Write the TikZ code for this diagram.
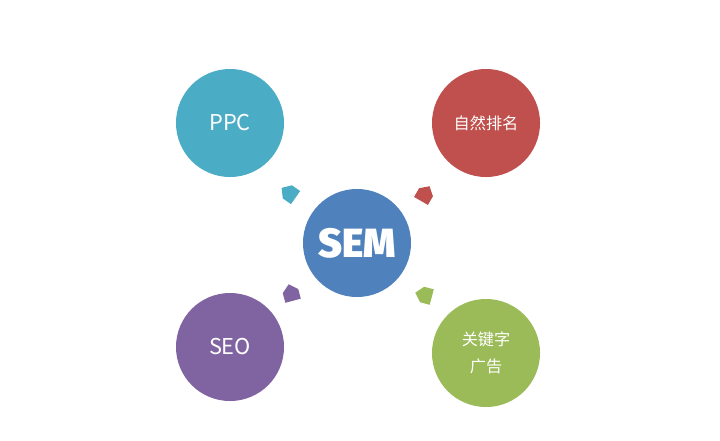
\documentclass[tikz,border=0pt]{standalone}
\usepackage{fontspec}
\setmainfont{Noto Sans CJK SC}
\newfontfamily\semfont{Fira Sans}[UprightFont={* Black}]
\usetikzlibrary{positioning}
\definecolor{ppcteal}{HTML}{4BACC6}
\definecolor{zrred}{HTML}{C0504D}
\definecolor{semblue}{HTML}{4F81BD}
\definecolor{seopurple}{HTML}{8064A2}
\definecolor{gjgreen}{HTML}{9BBB59}
\tikzset{
    ball/.style={circle, minimum size=2.7cm, inner sep=0pt, text=white, align=center, font=\fontsize{15.5}{18}\selectfont},
    cnball/.style={ball, font=\fontsize{11.5}{19}\selectfont},
}
\begin{document}
\begin{tikzpicture}[x=0.025cm,y=-0.025cm]
        \useasboundingbox (0,0) rectangle (720,440);
        \node[ball, fill=semblue, font=\semfont\fontsize{29}{30}\selectfont] (sem) at (357,243) {SEM};
        \node[ball, fill=ppcteal] (ppc) at (230,123) {PPC};
        \node[cnball, fill=zrred] (zrpm) at (486,123) {自然排名};
        \node[ball, fill=seopurple] (seo) at (230,347) {SEO};
        \node[cnball, fill=gjgreen] (gjzgg) at (486,353) {关键字\\广告};
        % little arrows round SEM
        \fill[ppcteal, shift={(289,193)}, rotate=145] (-8,-8) -- (2,-8) -- (9,0) -- (2,8) -- (-8,8) -- cycle;
        \fill[zrred, shift={(425,194)}, rotate=60] (-8,-8) -- (2,-8) -- (9,0) -- (2,8) -- (-8,8) -- cycle;
        \fill[seopurple, shift={(291,293)}, rotate=105] (-8,-8) -- (2,-8) -- (9,0) -- (2,8) -- (-8,8) -- cycle;
        \fill[gjgreen, shift={(424,295)}, rotate=165] (-8,-8) -- (2,-8) -- (9,0) -- (2,8) -- (-8,8) -- cycle;
\end{tikzpicture}
\end{document}
